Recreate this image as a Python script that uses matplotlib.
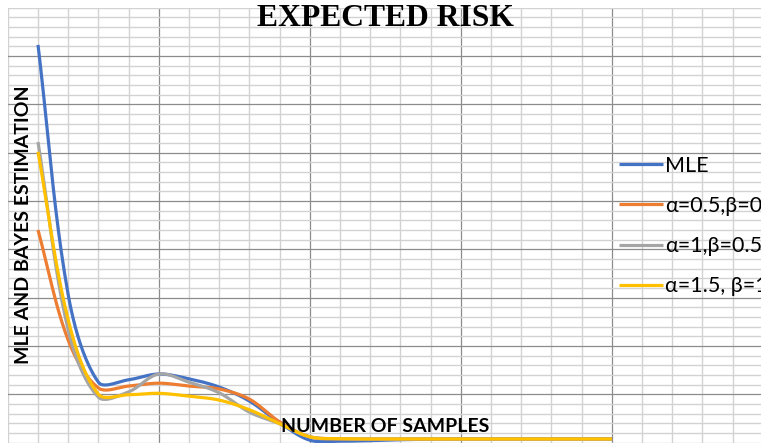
import numpy as np
import matplotlib
matplotlib.use("Agg")
import matplotlib.pyplot as plt

# sample index (20 sample sizes) and expected risk
samples = np.arange(20)
mle = [8.23, 3.06, 1.25, 1.30, 1.42, 1.32, 1.15, 0.86, 0.41, 0.05,
       0.03, 0.04, 0.06, 0.07, 0.075, 0.075, 0.075, 0.075, 0.075, 0.075]
bayes_a05 = [4.40, 2.12, 1.13, 1.17, 1.23, 1.17, 1.11, 0.90, 0.43, 0.12,
             0.08, 0.075, 0.075, 0.075, 0.075, 0.075, 0.075, 0.075, 0.075, 0.075]
bayes_a1 = [6.22, 2.33, 0.94, 1.05, 1.42, 1.25, 1.03, 0.63, 0.39, 0.12,
            0.08, 0.075, 0.075, 0.075, 0.075, 0.075, 0.075, 0.075, 0.075, 0.075]
bayes_a15 = [6.02, 2.54, 1.00, 0.99, 1.02, 0.96, 0.88, 0.68, 0.39, 0.12,
             0.08, 0.075, 0.075, 0.075, 0.075, 0.075, 0.075, 0.075, 0.075, 0.075]

labels = ['MLE', 'α=0.5,β=0', 'α=1,β=0.5', 'α=1.5, β=1']
colors = ['#4472C4', '#ED7D31', '#A5A5A5', '#FFC000']

XPX, YPX = 30.2, 48.3  # pixels per data unit, used for the smoothing


def smooth(x, y, n=24):
    # excel-like smoothed line: bezier, control arms weighted by segment length
    P = np.column_stack([np.asarray(x, float) * XPX, np.asarray(y, float) * YPX])
    m = len(P)
    fwd = np.zeros_like(P)
    bwd = np.zeros_like(P)
    for i in range(m):
        a = P[max(i - 1, 0)]
        b = P[min(i + 1, m - 1)]
        d = b - a
        la = np.hypot(*(P[i] - a))
        lb = np.hypot(*(b - P[i]))
        tot = la + lb if la + lb > 0 else 1.0
        fwd[i] = P[i] + d * lb / tot / 3.0
        bwd[i] = P[i] - d * la / tot / 3.0
    t = np.linspace(0, 1, n)[:, None]
    out = []
    for i in range(m - 1):
        p0, c1, c2, p3 = P[i], fwd[i], bwd[i + 1], P[i + 1]
        seg = (1 - t) ** 3 * p0 + 3 * (1 - t) ** 2 * t * c1 + 3 * (1 - t) * t ** 2 * c2 + t ** 3 * p3
        out.append(seg if i == 0 else seg[1:])
    out = np.vstack(out)
    return out[:, 0] / XPX, out[:, 1] / YPX


W, H = 761, 443
fig = plt.figure(figsize=(W / 100, H / 100), dpi=100)
left, right, top, bottom = 7.8, 761, 7.7, 442.6
ax = fig.add_axes([left / W, (H - bottom) / H, (right - left) / W, (bottom - top) / H])

ax.set_xlim(-1, -1 + (right - left) / XPX)
ax.set_ylim(0, 9)

# grid: light cell lines + darker major lines
ax.set_xticks(np.arange(-1, 24, 1), minor=True)
ax.set_xticks([4, 9, 14, 19])
ax.set_yticks(np.arange(0, 9.01, 0.2), minor=True)
ax.set_yticks(np.arange(1, 9, 1))
ax.grid(which='minor', color='#d2d2d2', linewidth=1.0)
ax.grid(which='major', color='#8c8c8c', linewidth=0.9)
ax.tick_params(which='both', length=0, labelbottom=False, labelleft=False)
for s in ax.spines.values():
    s.set_visible(False)
ax.set_axisbelow(True)

for vals, lab, c in zip([mle, bayes_a05, bayes_a1, bayes_a15], labels, colors):
    sx, sy = smooth(samples, vals)
    ax.plot(sx, sy, color=c, linewidth=2.3, label=lab, solid_capstyle='butt', clip_on=False)

fig.text(385 / W, 1 - 19 / H, 'EXPECTED RISK', ha='center', va='center',
         fontsize=22.8, fontweight='bold', family='Liberation Serif')
fig.text(24 / W, 1 - 225 / H, 'MLE AND BAYES ESTIMATION', ha='center', va='center',
         rotation=90, fontsize=14, fontweight='bold', family='Lato')
fig.text(385 / W, 1 - 426 / H, 'NUMBER OF SAMPLES', ha='center', va='center',
         fontsize=14, fontweight='bold', family='Lato', zorder=5)

leg = ax.legend(loc='upper left', bbox_to_anchor=(619 / W, 1 - 156 / H),
                bbox_transform=fig.transFigure, frameon=False,
                prop={'family': 'Lato', 'size': 15.5}, handlelength=2.05,
                handletextpad=0.1, labelspacing=0.93, borderaxespad=0, borderpad=0)

fig.savefig('out.png', dpi=100)
